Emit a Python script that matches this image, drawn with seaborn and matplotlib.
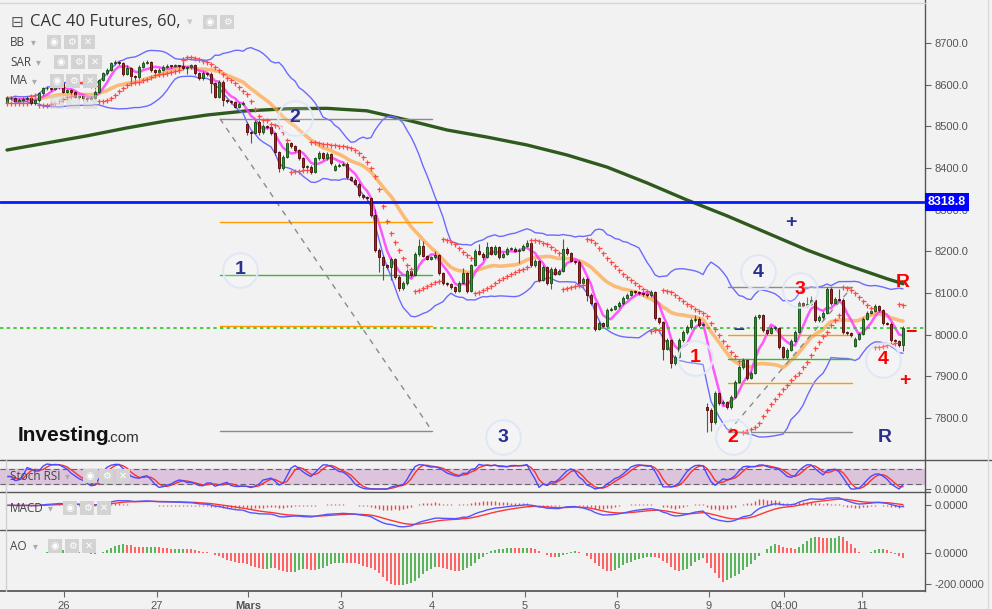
import numpy as np
import pandas as pd
import matplotlib
matplotlib.use("Agg")
import matplotlib.pyplot as plt
import seaborn as sns
from matplotlib.lines import Line2D
from matplotlib.patches import FancyBboxPatch
from matplotlib.ticker import FormatStrFormatter
from matplotlib.transforms import blended_transform_factory

sns.set_theme(style="white")
plt.rcParams['font.family'] = ['Liberation Sans', 'DejaVu Sans']

# --- Données (bougies horaires) ---
closes = [
    8567, 8568, 8560, 8563, 8566, 8568, 8556, 8562, 8579, 8591,
    8592, 8589, 8594, 8603, 8583, 8586, 8582, 8571, 8572, 8568,
    8565, 8568, 8583, 8611, 8627, 8635, 8651, 8653, 8651, 8625,
    8640, 8621, 8617, 8643, 8652, 8654, 8635, 8630, 8636, 8642,
    8645, 8644, 8645, 8644, 8639, 8641, 8646, 8627, 8615, 8628,
    8626, 8603, 8571, 8607, 8563, 8561, 8558, 8547, 8553, 8556,
    8485, 8484, 8511, 8485, 8501, 8498, 8483, 8437, 8399, 8427,
    8459, 8452, 8443, 8423, 8402, 8403, 8391, 8423, 8435, 8423,
    8433, 8411, 8405, 8408, 8410, 8378, 8372, 8362, 8335, 8329,
    8327, 8287, 8203, 8187, 8167, 8163, 8181, 8139, 8111, 8124,
    8153, 8143, 8193, 8213, 8189, 8182, 8185, 8190, 8148, 8124,
    8121, 8114, 8105, 8124, 8148, 8105, 8167, 8201, 8194, 8186,
    8210, 8194, 8210, 8186, 8194, 8206, 8206, 8201, 8203, 8213,
    8220, 8167, 8177, 8131, 8162, 8124, 8158, 8146, 8153, 8206,
    8196, 8177, 8175, 8124, 8134, 8095, 8076, 8014, 8028, 8021,
    8060, 8062, 8068, 8076, 8088, 8095, 8105, 8101, 8100, 8097,
    8094, 8101, 8040, 8030, 7966, 7987, 7932, 7946, 7987, 8006,
    8018, 8035, 8038, 8023, 8024, 7820, 7790, 7860, 7836, 7838,
    7826, 7850, 7886, 7922, 7939, 7896, 7908, 8042, 8046, 8011,
    8004, 8016, 8016, 7970, 7946, 7963, 7985, 8006, 8076, 8069,
    8074, 8083, 8035, 8042, 8052, 8110, 8076, 8086, 8084, 8006,
    8003, 7999, 7990, 8002, 8038, 8052, 8057, 8069, 8059, 8028,
    8026, 7987, 7985, 7975, 8016,
]
highs = [
    8572, 8572, 8571, 8567, 8570, 8573, 8576, 8566, 8582, 8595,
    8596, 8595, 8598, 8608, 8605, 8590, 8589, 8584, 8576, 8575,
    8571, 8572, 8586, 8614, 8631, 8640, 8655, 8660, 8657, 8654,
    8648, 8642, 8624, 8646, 8656, 8660, 8657, 8638, 8640, 8646,
    8649, 8648, 8649, 8648, 8665, 8645, 8650, 8649, 8630, 8632,
    8631, 8629, 8606, 8610, 8612, 8566, 8563, 8560, 8557, 8560,
    8509, 8488, 8515, 8514, 8505, 8504, 8501, 8486, 8440, 8431,
    8462, 8463, 8456, 8446, 8426, 8408, 8406, 8426, 8440, 8438,
    8437, 8436, 8409, 8412, 8414, 8413, 8381, 8375, 8365, 8338,
    8332, 8330, 8302, 8207, 8190, 8170, 8185, 8184, 8142, 8128,
    8157, 8157, 8197, 8230, 8225, 8192, 8189, 8200, 8193, 8151,
    8127, 8124, 8117, 8128, 8160, 8151, 8170, 8205, 8218, 8197,
    8222, 8213, 8214, 8213, 8198, 8210, 8210, 8209, 8207, 8217,
    8226, 8223, 8181, 8180, 8166, 8165, 8162, 8161, 8157, 8230,
    8210, 8199, 8179, 8178, 8138, 8137, 8099, 8079, 8032, 8031,
    8064, 8066, 8072, 8080, 8092, 8099, 8108, 8108, 8104, 8103,
    8100, 8108, 8104, 8043, 8033, 7991, 7990, 7950, 7991, 8010,
    8022, 8040, 8046, 8041, 8028, 7836, 7823, 7864, 7863, 7842,
    7841, 7854, 7890, 7926, 7944, 7942, 7912, 8046, 8050, 8049,
    8014, 8020, 8020, 8019, 7973, 7967, 7989, 8010, 8080, 8079,
    8090, 8092, 8086, 8046, 8056, 8114, 8113, 8090, 8110, 8087,
    8009, 8006, 7994, 8006, 8042, 8056, 8061, 8073, 8072, 8062,
    8031, 8029, 7990, 7988, 8020,
]
lows = [
    8555, 8562, 8556, 8557, 8560, 8563, 8552, 8550, 8558, 8576,
    8587, 8585, 8586, 8590, 8580, 8579, 8578, 8567, 8566, 8564,
    8560, 8562, 8565, 8580, 8608, 8624, 8632, 8647, 8646, 8620,
    8622, 8605, 8612, 8614, 8640, 8649, 8631, 8626, 8627, 8633,
    8639, 8640, 8641, 8640, 8635, 8625, 8638, 8623, 8611, 8612,
    8621, 8580, 8567, 8568, 8548, 8556, 8553, 8543, 8544, 8550,
    8480, 8460, 8481, 8480, 8482, 8494, 8479, 8432, 8390, 8395,
    8424, 8448, 8439, 8418, 8397, 8398, 8386, 8388, 8420, 8419,
    8420, 8406, 8392, 8401, 8404, 8374, 8368, 8358, 8331, 8325,
    8322, 8282, 8198, 8150, 8131, 8158, 8130, 8134, 8105, 8108,
    8120, 8139, 8140, 8189, 8185, 8178, 8179, 8181, 8144, 8120,
    8117, 8110, 8100, 8102, 8121, 8100, 8102, 8164, 8190, 8180,
    8183, 8190, 8191, 8182, 8183, 8191, 8202, 8197, 8172, 8200,
    8210, 8163, 8163, 8127, 8128, 8120, 8110, 8142, 8143, 8150,
    8192, 8173, 8170, 8120, 8121, 8080, 8072, 8008, 8010, 8017,
    8018, 8056, 8058, 8064, 8072, 8085, 8092, 8097, 8096, 8093,
    8090, 8091, 8036, 8026, 7940, 7962, 7920, 7928, 7943, 7983,
    8002, 8014, 8031, 8019, 8020, 7767, 7768, 7786, 7832, 7832,
    7821, 7822, 7847, 7883, 7918, 7891, 7893, 7905, 8038, 8007,
    8000, 8001, 8012, 7966, 7941, 7942, 7960, 7982, 8003, 8065,
    8066, 8070, 8030, 8031, 8038, 8049, 8072, 8073, 8080, 8002,
    7999, 7995, 7969, 7987, 7999, 8035, 8049, 8054, 8055, 8024,
    8022, 7983, 7980, 7970, 7960,
]
# ouvertures de séance (gaps) ; ailleurs open = clôture précédente
session_opens = {0: 8559, 60: 8506, 82: 8396, 175: 7826, 212: 7973}

# MA longue (200), relevée toutes les 10 bougies
ma200_idx = [0, 10, 20, 30, 40, 50, 60, 70, 80, 90, 100, 110, 120,
             130, 140, 150, 160, 170, 180, 190, 200, 210, 220, 224]
ma200_val = [8443, 8460, 8477, 8496, 8513, 8527, 8537, 8542, 8543, 8537, 8515, 8491, 8474,
             8455, 8431, 8402, 8364, 8323, 8285, 8244, 8203, 8167, 8134, 8122]

resistance = 8318.8
day_labels = ['26', '27', 'Mars', '3', '4', '5', '6', '9', '04:00', '11']
day_pos = [14.25, 37.5, 60.25, 83.5, 106.25, 129.5, 152.5, 175.5, 194.25, 213.75]
price_ticks = [7800, 7900, 8000, 8100, 8200, 8300, 8400, 8500, 8600, 8700]

# tracés (niveaux) : (x début, x fin, [(niveau, couleur)], diagonale)
drawing_1 = (53.25, 106.25, [(8518, '#8a8a8a'), (8270, '#ff9900'), (8143, '#33bb33'),
                             (8021, '#ff9900'), (7769, '#8a8a8a')], (8518, 7769))
drawing_2 = (180.25, 211.25, [(8114, '#8a8a8a'), (7999, '#ff9900'), (7942, '#33bb33'),
                              (7884, '#ff9900'), (7766, '#8a8a8a')], (7766, 8114))
marks = [('1', 58.25, 8155, '#2b2f8f', True), ('2', 72, 8520, '#2b2f8f', True),
         ('3', 124, 7754, '#2b2f8f', True), ('4', 187.75, 8150, '#2b2f8f', True),
         ('1', 172, 7944, '#ff0000', True), ('2', 181.5, 7754, '#ff0000', True),
         ('3', 198.25, 8107, '#ff0000', True), ('4', 219, 7939, '#ff0000', True),
         ('R', 224, 8126, '#ff0000', False), ('R', 219.5, 7754, '#2b2f8f', False),
         ('+', 196, 8270, '#2b2f8f', False), ('–', 183, 8011, '#2b2f8f', False),
         ('−', 226, 8004, '#ff0000', False), ('+', 224.5, 7889, '#ff0000', False)]

# --- Calculs ---
c = np.array(closes, float)
n = len(c)
o = np.r_[np.nan, c[:-1]]
for k, v in session_opens.items():
    o[k] = v
h = np.maximum(np.array(highs, float), np.maximum(o, c))
l = np.minimum(np.array(lows, float), np.minimum(o, c))
x = np.arange(n)
cs = pd.Series(c)

ma_fast = cs.rolling(5, min_periods=1).mean()
mid = cs.rolling(20, min_periods=1).mean()
sd = cs.rolling(20, min_periods=1).std(ddof=0)
bb_up, bb_lo = mid + 2 * sd, mid - 2 * sd


def psar(hi, lo, step=0.02, amax=0.2):
    out = np.zeros(len(hi))
    bull, af, ep = True, step, hi[0]
    out[0] = lo[0]
    for i in range(1, len(hi)):
        s = out[i - 1] + af * (ep - out[i - 1])
        if bull:
            s = min(s, lo[i - 1], lo[max(i - 2, 0)])
            if lo[i] < s:
                bull, s, ep, af = False, ep, lo[i], step
            elif hi[i] > ep:
                ep, af = hi[i], min(af + step, amax)
        else:
            s = max(s, hi[i - 1], hi[max(i - 2, 0)])
            if hi[i] > s:
                bull, s, ep, af = True, ep, hi[i], step
            elif lo[i] < ep:
                ep, af = lo[i], min(af + step, amax)
        out[i] = s
    return out


sar = psar(h, l)

delta = cs.diff().fillna(0)
gain = delta.clip(lower=0).ewm(alpha=1 / 14, adjust=False).mean()
loss = (-delta.clip(upper=0)).ewm(alpha=1 / 14, adjust=False).mean()
rsi = 100 - 100 / (1 + gain / loss.replace(0, np.nan))
rsi = rsi.fillna(50)
rlo, rhi = rsi.rolling(14, min_periods=1).min(), rsi.rolling(14, min_periods=1).max()
stoch = ((rsi - rlo) / (rhi - rlo).replace(0, np.nan) * 100).fillna(50)
st_k = stoch.rolling(3, min_periods=1).mean()
st_d = st_k.rolling(3, min_periods=1).mean()

macd = cs.ewm(span=12, adjust=False).mean() - cs.ewm(span=26, adjust=False).mean()
signal = macd.ewm(span=9, adjust=False).mean()
hist = macd - signal

med = pd.Series((h + l) / 2)
ao = (med.rolling(5, min_periods=1).mean() - med.rolling(34, min_periods=1).mean()).values
ao_up = np.r_[True, ao[1:] >= ao[:-1]]

# --- Figure ---
BG = '#f2f2f2'
W, H = 992, 609
fig = plt.figure(figsize=(W / 100, H / 100), dpi=100, facecolor=BG)


def rect(top, bottom):
    return [0, 1 - bottom / H, 925 / W, (bottom - top) / H]


ax = fig.add_axes(rect(0, 460))
ax_st = fig.add_axes(rect(460, 492))
ax_md = fig.add_axes(rect(492, 530))
ax_ao = fig.add_axes(rect(530, 591))
XL = (-1.75, 229.5)

for a in (ax, ax_st, ax_md, ax_ao):
    a.set_facecolor(BG)
    a.set_xlim(*XL)
    for s in ('top', 'left', 'bottom'):
        a.spines[s].set_visible(False)
    a.spines['right'].set_color('#555')
    a.spines['right'].set_linewidth(1)
    a.yaxis.tick_right()
    a.tick_params(axis='y', direction='out', length=4, width=0.8, color='#666',
                  labelsize=8, labelcolor='#555', pad=3)
    a.tick_params(axis='x', bottom=False, labelbottom=False)
    a.grid(False)


def line(a, xs, ys, color, lw, z=2, alpha=1.0, ls='-'):
    sns.lineplot(x=xs, y=ys, ax=a, color=color, linewidth=lw, zorder=z,
                 alpha=alpha, linestyle=ls, estimator=None, sort=False)


# prix
ax.set_ylim(7699, 8803)
line(ax, ma200_idx, ma200_val, '#2e5a1e', 2.4, z=2)
line(ax, x, bb_up, '#6b6bff', 1.0, z=2)
line(ax, x, bb_lo, '#6b6bff', 1.0, z=2)
line(ax, x, mid, '#ffa445', 2.6, z=2, alpha=0.7)
line(ax, x, ma_fast, '#ff3cff', 1.8, z=2, alpha=0.85)

ax.axhline(resistance, color='#0a1aff', lw=2, zorder=2.5)
ax.axhline(c[-1], color='#22cc22', lw=1.2, ls=(0, (2, 2)), zorder=2.5)

for x0, x1, levels, (ya, yb) in (drawing_1, drawing_2):
    for lev, col in levels:
        ax.plot([x0, x1], [lev, lev], color=col, lw=1, zorder=2.2)
    ax.plot([x0, x1], [ya, yb], color='#8a8a8a', lw=1, ls=(0, (4, 4)), zorder=2.2)

up = c >= o
blo = np.minimum(o, c)
bh = np.maximum(np.abs(c - o), 1.8)
ax.vlines(x, l, h, color='#555555', lw=0.8, zorder=3)
ax.bar(x[up], bh[up], bottom=blo[up], width=0.74, color='#1f9e1f',
       edgecolor='#0d4a0d', linewidth=0.6, zorder=4)
ax.bar(x[~up], bh[~up], bottom=blo[~up], width=0.74, color='#c41818',
       edgecolor='#520000', linewidth=0.6, zorder=4)
ax.plot(x, sar, ls='none', marker='+', ms=3.6, mew=0.9, color='#ff4a4a', zorder=5)

for txt, mx, my, col, circ in marks:
    if circ:
        ax.scatter([mx], [my], s=620, facecolor=(1, 1, 1, 0.2), edgecolor='#dfe7f7',
                   linewidth=1.4, zorder=6)
    ax.text(mx, my, txt, color=col, fontsize=14, fontweight='bold', ha='center',
            va='center', zorder=7)

ax.set_yticks(price_ticks)
ax.yaxis.set_major_formatter(FormatStrFormatter('%.1f'))
bt = blended_transform_factory(ax.transAxes, ax.transData)
ax.text(1.003, resistance, '8318.8', transform=bt, ha='left', va='center', color='white',
        fontsize=9, fontweight='bold', zorder=20, clip_on=False,
        bbox=dict(boxstyle='square,pad=0.22', fc='#0000ff', ec='none'))

ax.text(18 / 925, 1 - 436 / 460, 'Investing', transform=ax.transAxes, fontsize=15,
        fontweight='bold', color='#111', ha='left', va='center', zorder=8)
ax.text(107 / 925, 1 - 438 / 460, '.com', transform=ax.transAxes, fontsize=11,
        color='#333', ha='left', va='center', zorder=8)

# Stoch RSI
ax_st.set_ylim(-12, 116)
ax_st.axhspan(20, 80, color='#dcc4dc', zorder=1)
ax_st.axhline(20, color='#666', lw=0.8, ls=(0, (5, 3)), zorder=1.5)
ax_st.axhline(80, color='#666', lw=0.8, ls=(0, (5, 3)), zorder=1.5)
line(ax_st, x, st_d, '#ff3030', 1.0, z=3)
line(ax_st, x, st_k, '#4a4aff', 1.0, z=3)
ax_st.set_yticks([0])
ax_st.yaxis.set_major_formatter(FormatStrFormatter('%.4f'))

# MACD
mmin = min(macd.min(), signal.min())
lo_lim = mmin * 24 / 21
ax_md.set_ylim(lo_lim, -lo_lim * 13 / 24)
ax_md.vlines(x, 0, hist, colors='#ff4040', lw=1.0, zorder=2)
line(ax_md, x, signal, '#ff3535', 1.0, z=3)
line(ax_md, x, macd, '#5555ff', 1.0, z=3)
ax_md.set_yticks([0])
ax_md.yaxis.set_major_formatter(FormatStrFormatter('%.4f'))

# AO
ax_ao.set_ylim(-245, 148)
ax_ao.vlines(x, 0, ao, colors=np.where(ao_up, '#2ea02e', '#ff3b3b'), lw=1.1, zorder=2)
ax_ao.set_yticks([-200, 0])
ax_ao.yaxis.set_major_formatter(FormatStrFormatter('%.4f'))
ax_ao.spines['bottom'].set_visible(True)
ax_ao.spines['bottom'].set_color('#555')
ax_ao.set_xticks(day_pos)
ax_ao.set_xticklabels(day_labels)
ax_ao.tick_params(axis='x', bottom=True, labelbottom=True, direction='out', length=4,
                  width=0.8, color='#666', labelsize=8, labelcolor='#555', pad=3)
ax_ao.get_xticklabels()[2].set_fontweight('bold')

for a in (ax, ax_st, ax_md, ax_ao):
    a.set_xlabel('')
    a.set_ylabel('')


# séparateurs et légendes (coordonnées pixel de la figure)
def fx(px):
    return px / W


def fy(py):
    return 1 - py / H


for yy, xe in ((460, 992), (492, 930), (530, 925)):
    fig.add_artist(Line2D([0, fx(xe)], [fy(yy), fy(yy)], color='#555', lw=1))
fig.add_artist(Line2D([0, fx(925)], [fy(3), fy(3)], color='#d6d6d6', lw=1))
fig.add_artist(Line2D([fx(988), fx(988)], [0, 1], color='#dadada', lw=1))
fig.add_artist(Line2D([fx(6), fx(6)], [fy(591), fy(460)], color='#cfcfcf', lw=1))


def icon(cx, cy, glyph, alpha=1.0):
    fig.add_artist(FancyBboxPatch((fx(cx - 7), fy(cy + 7)), 14 / W, 14 / H,
                                  boxstyle='square,pad=0', transform=fig.transFigure,
                                  fc='#d3d3d3', ec='none', alpha=alpha))
    fig.text(fx(cx), fy(cy), glyph, color='white', fontsize=7, ha='center', va='center',
             family='DejaVu Sans', fontweight='bold', alpha=alpha)


fig.text(fx(11), fy(22), '⊟', fontsize=11, color='#555', ha='left', va='center',
         family='DejaVu Sans')
fig.text(fx(30), fy(22), 'CAC 40 Futures, 60,', fontsize=12, color='#333',
         ha='left', va='center', family='Open Sans')
fig.text(fx(187), fy(22), '▾', fontsize=8, color='#c8c8c8', ha='left', va='center',
         family='DejaVu Sans')
icon(210, 22, '◉')
icon(227, 22, '⚙')

legend_rows = [('BB', 42, 31, [54, 71, 88]), ('SAR', 62, 36, [61, 78, 95]),
               ('MA', 81, 32, [57, 73, 90]), ('Stoch RSI', 476, 65, [90, 106, 123]),
               ('MACD', 508, 48, [70, 87, 104]), ('AO', 546, 33, [55, 72, 89])]
for name, yy, cx, ics in legend_rows:
    fig.text(fx(10), fy(yy), name, fontsize=8.5, color='#444', ha='left', va='center',
             family='Open Sans', zorder=30)
    fig.text(fx(cx), fy(yy), '▾', fontsize=7, color='#aaa', ha='left', va='center',
             family='DejaVu Sans')
    for gx, g in zip(ics, ['◉', '⚙', '✕']):
        icon(gx, yy, g)
for gx, g in zip([57, 73, 90], ['◉', '⚙', '✕']):
    icon(gx, 102, g, alpha=0.5)

fig.savefig('out.png', dpi=100, facecolor=BG)
